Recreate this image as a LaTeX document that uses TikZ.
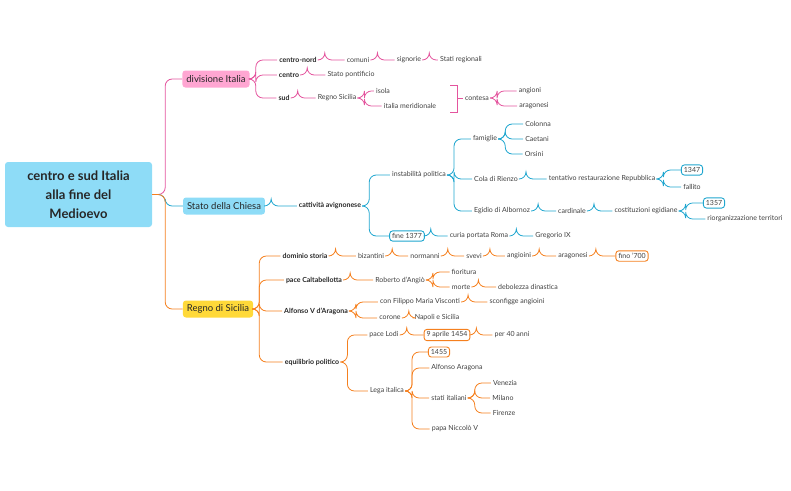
\documentclass[tikz,border=0pt]{standalone}
\usepackage{fontspec}
\setmainfont{Lato}
\begin{document}
\begin{tikzpicture}[x=1pt,y=-1pt,
  t/.style={inner sep=2pt,font=\fontsize{7}{8}\selectfont,text=black!75},
  b/.style={t,font=\fontsize{7}{8}\selectfont\bfseries,text=black!85},
  bx/.style={t,draw=#1,line width=0.9pt,rounded corners=3pt,fill=white,inner sep=2.5pt},
  main/.style={rounded corners=3pt,fill=#1,minimum height=17pt,inner sep=4pt,font=\fontsize{9.5}{11}\selectfont,text=black!85},
  lk/.style={draw=#1,line width=0.8pt,rounded corners=7pt}]
\definecolor{pk}{HTML}{E4559E}\definecolor{pkf}{HTML}{FFA6D2}
\definecolor{bl}{HTML}{1FA6CF}\definecolor{blf}{HTML}{8EDCF7}
\definecolor{or}{HTML}{F5801F}\definecolor{orf}{HTML}{FFD939}
\useasboundingbox (0,0) rectangle (791,490);
\newcommand\lk[3]{\draw[lk=#1] (#2.east) -- ++(6,0) |- (#3.west);}
\node[fill=blf,rounded corners=3pt,minimum width=147pt,minimum height=65pt,align=center,font=\fontsize{13}{19}\selectfont\bfseries,text=black!85] (root) at (78.5,194.5) {centro e sud Italia\\alla fine del\\Medioevo};
\node[main=pkf] (div) at (216,79) {divisione Italia};
\node[main=blf] (chi) at (224,206) {Stato della Chiesa};
\node[main=orf] (reg) at (218,309) {Regno di Sicilia};
\draw[lk=pk] (root.east) -- ++(13,0) |- (div.west);
\draw[lk=bl] (root.east) -- ++(13,0) |- (chi.west);
\draw[lk=or] (root.east) -- ++(13,0) |- (reg.west);
% pink
\node[b] (cn) at (298,60) {centro-nord};
\node[t] (com) at (358,60) {comuni};
\node[t] (sig) at (409,60) {signorie};
\node[t] (sr) at (461,60) {Stati regionali};
\node[b] (ce) at (289,75) {centro};
\node[t] (sp) at (351,75) {Stato pontificio};
\node[b] (sud) at (284,98) {sud};
\node[t] (rs) at (337,98) {Regno Sicilia};
\node[t] (iso) at (383,91) {isola};
\node[t] (im) at (410,106) {italia meridionale};
\node[t] (cont) at (477,98) {contesa};
\node[t] (ang) at (530,91) {angioni};
\node[t] (ara) at (534,106) {aragonesi};
\lk{pk}{div}{cn}\lk{pk}{div}{ce}\lk{pk}{div}{sud}
\lk{pk}{cn}{com}\lk{pk}{com}{sig}\lk{pk}{sig}{sr}\lk{pk}{ce}{sp}
\lk{pk}{sud}{rs}\lk{pk}{rs}{iso}\lk{pk}{rs}{im}
\coordinate (br) at (463,98);
\draw[line width=0.8pt,draw=pk] (450,85) -- (457,85) -- (457,112) -- (450,112) (457,98) -- (br);
\lk{pk}{cont}{ang}\lk{pk}{cont}{ara}
% blue
\node[b] (cat) at (330,206) {cattività avignonese};
\node[t] (ins) at (419,175) {instabilità politica};
\node[t] (fam) at (485,139) {famiglie};
\node[t] (col) at (538,124) {Colonna};
\node[t] (cae) at (537,139) {Caetani};
\node[t] (ors) at (534,154) {Orsini};
\node[t] (cola) at (496,179) {Cola di Rienzo};
\node[t] (ten) at (602,179) {tentativo restaurazione Repubblica};
\node[bx=bl] (a47) at (692,170) {1347};
\node[t] (fal) at (692,187) {fallito};
\node[t] (egi) at (502,211) {Egidio di Albornoz};
\node[t] (car) at (572,211) {cardinale};
\node[t] (cos) at (646,211) {costituzioni egidiane};
\node[bx=bl] (a57) at (714,203) {1357};
\node[t] (rio) at (745,219) {riorganizzazione territori};
\node[bx=bl] (fin) at (407,236) {fine 1377};
\node[t] (cur) at (479,236) {curia portata Roma};
\node[t] (gre) at (553,236) {Gregorio IX};
\lk{bl}{chi}{cat}\lk{bl}{cat}{ins}\lk{bl}{cat}{fin}
\lk{bl}{ins}{fam}\lk{bl}{ins}{cola}\lk{bl}{ins}{egi}
\lk{bl}{fam}{col}\lk{bl}{fam}{cae}\lk{bl}{fam}{ors}
\lk{bl}{cola}{ten}\lk{bl}{ten}{a47}\lk{bl}{ten}{fal}
\lk{bl}{egi}{car}\lk{bl}{car}{cos}\lk{bl}{cos}{a57}\lk{bl}{cos}{rio}
\lk{bl}{fin}{cur}\lk{bl}{cur}{gre}
% orange
\node[b] (dom) at (305,256) {dominio storia};
\node[t] (biz) at (371,256) {bizantini};
\node[t] (nor) at (425,256) {normanni};
\node[t] (sve) at (474,256) {svevi};
\node[t] (angi) at (519,256) {angioini};
\node[t] (arag) at (573,256) {aragonesi};
\node[bx=or] (f700) at (632,256) {fino '700};
\node[b] (pc) at (314,280) {pace Caltabellotta};
\node[t] (rob) at (400,280) {Roberto d'Angiò};
\node[t] (fio) at (464,272) {fioritura};
\node[t] (mor) at (461,287) {morte};
\node[t] (deb) at (528,287) {debolezza dinastica};
\node[b] (alf) at (316,311) {Alfonso V d'Aragona};
\node[t] (fil) at (420,302) {con Filippo Maria Visconti};
\node[t] (sco) at (517,302) {sconfigge angioini};
\node[t] (cor) at (390,318) {corone};
\node[t] (nap) at (437,318) {Napoli e Sicilia};
\node[b] (equ) at (312,362) {equilibrio politico};
\node[t] (lod) at (384,335) {pace Lodi};
\node[bx=or] (apr) at (447,335) {9 aprile 1454};
\node[t] (p40) at (512,335) {per 40 anni};
\node[t] (leg) at (387,391) {Lega italica};
\node[bx=or] (a55) at (439,352) {1455};
\node[t] (ala) at (457,368) {Alfonso Aragona};
\node[t] (sta) at (449,398) {stati italiani};
\node[t] (ven) at (505,383) {Venezia};
\node[t] (mil) at (503,398) {Milano};
\node[t] (fir) at (504,413) {Firenze};
\node[t] (pap) at (455,429) {papa Niccolò V};
\lk{or}{reg}{dom}\lk{or}{reg}{pc}\lk{or}{reg}{alf}\lk{or}{reg}{equ}
\lk{or}{dom}{biz}\lk{or}{biz}{nor}\lk{or}{nor}{sve}\lk{or}{sve}{angi}\lk{or}{angi}{arag}\lk{or}{arag}{f700}
\lk{or}{pc}{rob}\lk{or}{rob}{fio}\lk{or}{rob}{mor}\lk{or}{mor}{deb}
\lk{or}{alf}{fil}\lk{or}{alf}{cor}\lk{or}{fil}{sco}\lk{or}{cor}{nap}
\lk{or}{equ}{lod}\lk{or}{equ}{leg}\lk{or}{lod}{apr}\lk{or}{apr}{p40}
\lk{or}{leg}{a55}\lk{or}{leg}{ala}\lk{or}{leg}{sta}\lk{or}{leg}{pap}
\lk{or}{sta}{ven}\lk{or}{sta}{mil}\lk{or}{sta}{fir}
\end{tikzpicture}
\end{document}
